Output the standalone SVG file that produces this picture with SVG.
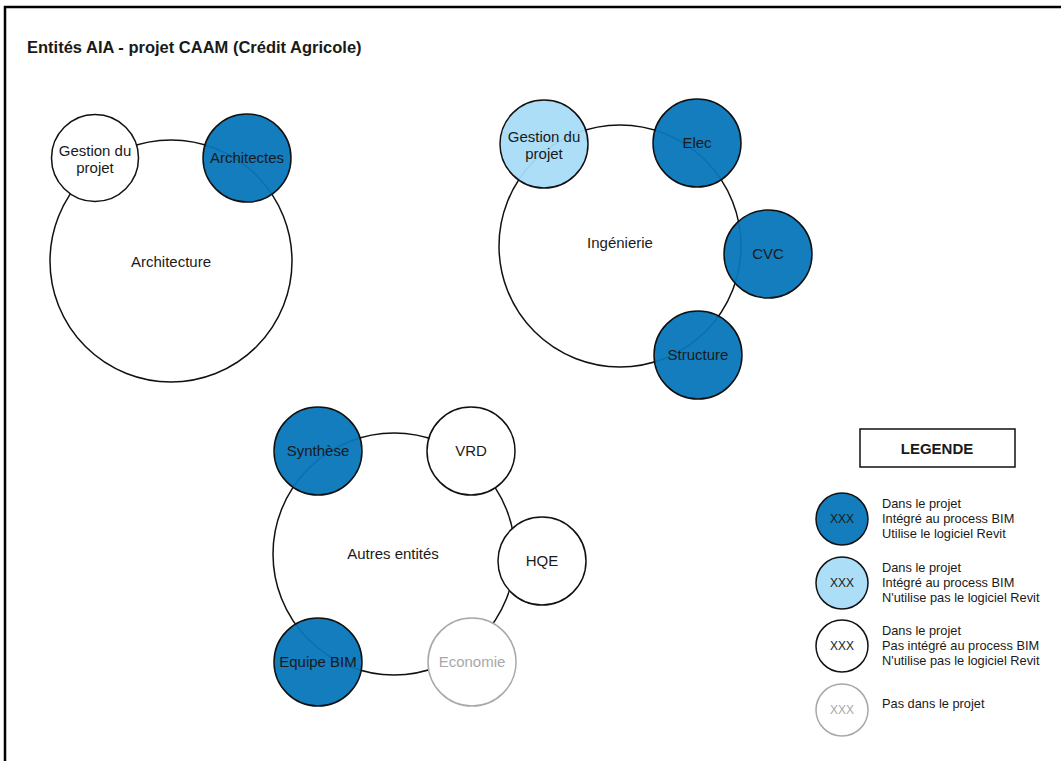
<svg xmlns="http://www.w3.org/2000/svg" width="1061" height="761" viewBox="0 0 1061 761">
  <style>
    text { font-family: "Liberation Sans", Arial, sans-serif; fill: #1a1a1a; }
    .title { font-size: 16.5px; font-weight: bold; }
    .lbl { font-size: 15px; text-anchor: middle; }
    .grp { fill: #ffffff; stroke: #111; stroke-width: 1.5; }
    .revit { fill: #0676b9; fill-opacity: 0.95; stroke: #111; stroke-width: 1.5; }
    .bim { fill: #a9dcf8; fill-opacity: 0.95; stroke: #111; stroke-width: 1.5; }
    .plain { fill: #ffffff; stroke: #111; stroke-width: 1.5; }
    .out { fill: #ffffff; stroke: #a8a8a8; stroke-width: 1.5; }
    .muted { fill: #a8a8a8; }
    .xxx { font-size: 12px; text-anchor: middle; }
    .leg { font-size: 12.8px; }
    .legtitle { font-size: 15px; font-weight: bold; text-anchor: middle; }
  </style>

  <!-- page frame -->
  <rect x="5" y="7" width="1100" height="800" fill="#ffffff" stroke="#000" stroke-width="2.5"/>

  <text class="title" x="27" y="53">Entités AIA - projet CAAM (Crédit Agricole)</text>

  <!-- group outlines (rings linking each team) -->
  <g id="connectors">
    <circle class="grp" cx="171" cy="261" r="121"/>
    <circle class="grp" cx="620" cy="246" r="121"/>
    <circle class="grp" cx="394" cy="554" r="121"/>
  </g>

  <!-- Architecture -->
  <g id="architecture">
    <text class="lbl" x="171" y="267">Architecture</text>
  </g>
  <g id="archi-gestion">
    <circle class="plain" cx="95" cy="158" r="43.5"/>
    <text class="lbl" x="95" y="156">Gestion du</text>
    <text class="lbl" x="95" y="173">projet</text>
  </g>
  <g id="archi-architectes">
    <circle class="revit" cx="247" cy="158" r="44"/>
    <text class="lbl" x="247" y="163">Architectes</text>
  </g>

  <!-- Ingénierie -->
  <g id="ingenierie">
    <text class="lbl" x="620" y="248">Ingénierie</text>
  </g>
  <g id="inge-gestion">
    <circle class="bim" cx="544" cy="144" r="44"/>
    <text class="lbl" x="544" y="142">Gestion du</text>
    <text class="lbl" x="544" y="159">projet</text>
  </g>
  <g id="inge-elec">
    <circle class="revit" cx="697" cy="143" r="44"/>
    <text class="lbl" x="697" y="148">Elec</text>
  </g>
  <g id="inge-cvc">
    <circle class="revit" cx="768" cy="254" r="44"/>
    <text class="lbl" x="768" y="259">CVC</text>
  </g>
  <g id="inge-structure">
    <circle class="revit" cx="698" cy="355" r="44"/>
    <text class="lbl" x="698" y="360">Structure</text>
  </g>

  <!-- Autres entités -->
  <g id="autres">
    <text class="lbl" x="393" y="559">Autres entités</text>
  </g>
  <g id="autres-synthese">
    <circle class="revit" cx="318" cy="451" r="44"/>
    <text class="lbl" x="318" y="456">Synthèse</text>
  </g>
  <g id="autres-vrd">
    <circle class="plain" cx="471" cy="451" r="44"/>
    <text class="lbl" x="471" y="456">VRD</text>
  </g>
  <g id="autres-hqe">
    <circle class="plain" cx="542" cy="561" r="44"/>
    <text class="lbl" x="542" y="566">HQE</text>
  </g>
  <g id="autres-equipe-bim">
    <circle class="revit" cx="318" cy="662" r="44"/>
    <text class="lbl" x="318" y="667">Equipe BIM</text>
  </g>
  <g id="autres-economie">
    <circle class="out" cx="472" cy="662" r="44"/>
    <text class="lbl muted" x="472" y="667">Economie</text>
  </g>

  <!-- Legend -->
  <g id="legende">
    <rect x="860" y="429" width="155" height="38" fill="#ffffff" stroke="#111" stroke-width="1.5"/>
    <text class="legtitle" x="937" y="454">LEGENDE</text>

    <circle class="revit" cx="842" cy="519" r="26"/>
    <text class="xxx" x="842" y="523">XXX</text>
    <text class="leg" x="882" y="508">Dans le projet</text>
    <text class="leg" x="882" y="523">Intégré au process BIM</text>
    <text class="leg" x="882" y="537.5">Utilise le logiciel Revit</text>

    <circle class="bim" cx="842" cy="583" r="26"/>
    <text class="xxx" x="842" y="587">XXX</text>
    <text class="leg" x="882" y="572">Dans le projet</text>
    <text class="leg" x="882" y="587">Intégré au process BIM</text>
    <text class="leg" x="882" y="601.5">N'utilise pas le logiciel Revit</text>

    <circle class="plain" cx="842" cy="646" r="26"/>
    <text class="xxx" x="842" y="650">XXX</text>
    <text class="leg" x="882" y="635">Dans le projet</text>
    <text class="leg" x="882" y="650">Pas intégré au process BIM</text>
    <text class="leg" x="882" y="664.5">N'utilise pas le logiciel Revit</text>

    <circle class="out" cx="842" cy="710" r="26"/>
    <text class="xxx muted" x="842" y="714">XXX</text>
    <text class="leg" x="882" y="708">Pas dans le projet</text>
  </g>
</svg>
